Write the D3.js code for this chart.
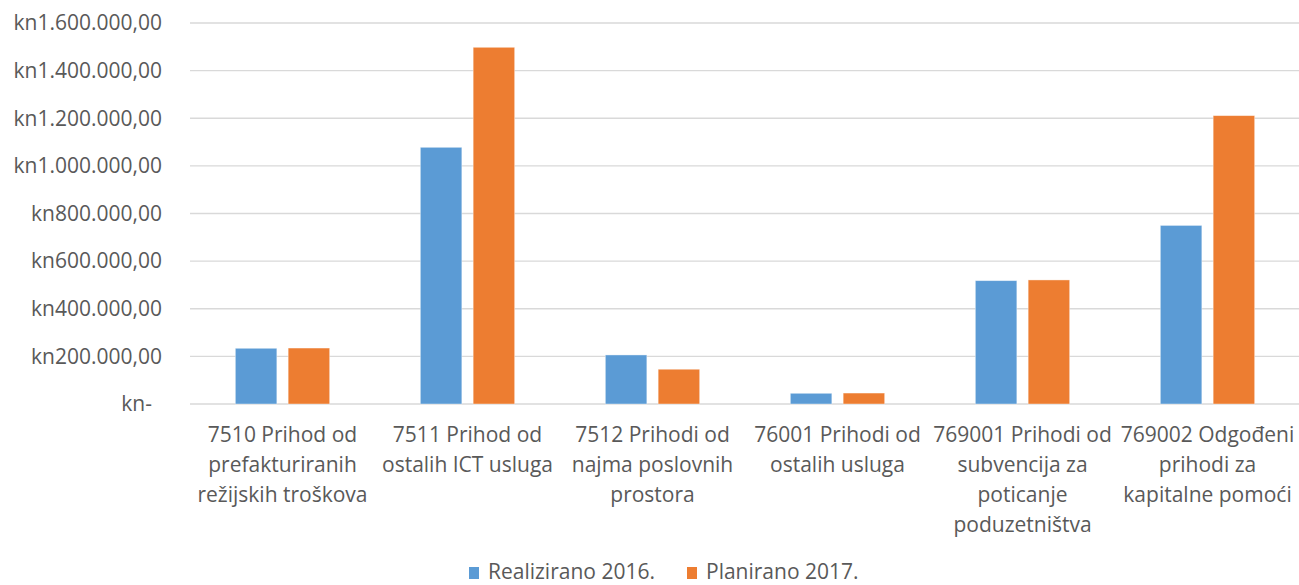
<!DOCTYPE html>
<html>
<head>
<meta charset="utf-8">
<script src="https://cdn.jsdelivr.net/npm/d3@7"></script>
<style>
  body { margin: 0; background: #fff; }
  text { font-family: "Open Sans", sans-serif; fill: #595959; }
</style>
</head>
<body>
<div class="container"></div>
<script>
(function(){
  const categories = [
    '7510 Prihod od\nprefakturiranih\nrežijskih troškova',
    '7511 Prihod od\nostalih ICT usluga',
    '7512 Prihodi od\nnajma poslovnih\nprostora',
    '76001 Prihodi od\nostalih usluga',
    '769001 Prihodi od\nsubvencija za\npoticanje\npoduzetništva',
    '769002 Odgođeni\nprihodi za\nkapitalne pomoći'
  ];
  const seriesNames = ['Realizirano 2016.', 'Planirano 2017.'];
  const realizirano = [234000, 1078000, 206000, 45000, 518000, 750000];
  const planirano = [235000, 1498000, 146000, 46000, 521000, 1211000];
  const yTicks = [0, 200000, 400000, 600000, 800000, 1000000, 1200000, 1400000, 1600000];
  const colors = ['#5B9BD5', '#ED7D31'];

  const config = {w: 1299, h: 585, left: 190, right: 1300, top: 23, bottom: 404};

  const svg = d3.select('.container').append('svg')
    .attr('width', config.w)
    .attr('height', config.h);

  const x = d3.scaleBand()
    .domain(d3.range(categories.length))
    .range([config.left, config.right]);

  const inner = d3.scaleBand()
    .domain([0, 1])
    .range([x.bandwidth() * 0.245, x.bandwidth() * 0.755])
    .paddingInner(0.214);

  const y = d3.scaleLinear()
    .domain([0, 1600000])
    .range([config.bottom, config.top]);

  const fmt = d3.formatLocale({decimal: ',', thousands: '.', grouping: [3], currency: ['kn', '']}).format('$,.2f');

  // gridlines
  svg.append('g')
    .selectAll('line')
    .data(yTicks)
    .enter().append('line')
      .attr('x1', config.left)
      .attr('x2', config.w)
      .attr('y1', d => y(d))
      .attr('y2', d => y(d))
      .attr('stroke', '#D9D9D9')
      .attr('stroke-width', 1.3);

  // y labels
  svg.append('g')
    .selectAll('text')
    .data(yTicks)
    .enter().append('text')
      .attr('x', d => d === 0 ? 152 : 162)
      .attr('y', d => y(d))
      .attr('dy', '0.35em')
      .attr('text-anchor', 'end')
      .attr('font-size', 21)
      .text(d => d === 0 ? 'kn-' : fmt(d));

  const series = [realizirano, planirano];

  series.forEach((vals, s) => {
    svg.append('g')
      .selectAll('rect')
      .data(vals)
      .enter().append('rect')
        .attr('x', (d, i) => x(i) + inner(s))
        .attr('width', inner.bandwidth())
        .attr('y', d => y(d))
        .attr('height', d => y(0) - y(d))
        .attr('fill', colors[s])
        .attr('stroke', '#fff')
        .attr('stroke-opacity', 0.5)
        .attr('stroke-width', 0.8);
  });

  // category labels
  const cat = svg.append('g')
    .selectAll('text')
    .data(categories)
    .enter().append('text')
      .attr('text-anchor', 'middle')
      .attr('font-size', 21)
      .attr('transform', (d, i) => `translate(${x(i) + x.bandwidth() / 2},${config.bottom + 38})`);

  cat.selectAll('tspan')
    .data(d => d.split('\n'))
    .enter().append('tspan')
      .attr('x', 0)
      .attr('y', (d, i) => i * 30)
      .text(d => d);

  // legend
  const legendX = [469, 687];
  const legend = svg.append('g')
    .selectAll('g')
    .data(seriesNames)
    .enter().append('g')
      .attr('transform', (d, i) => `translate(${legendX[i]},567)`);

  legend.append('rect')
    .attr('width', 10)
    .attr('height', 12)
    .attr('fill', (d, i) => colors[i]);

  legend.append('text')
    .attr('x', 19)
    .attr('y', 12)
    .attr('font-size', 21)
    .text(d => d);
})();
</script>
</body>
</html>
